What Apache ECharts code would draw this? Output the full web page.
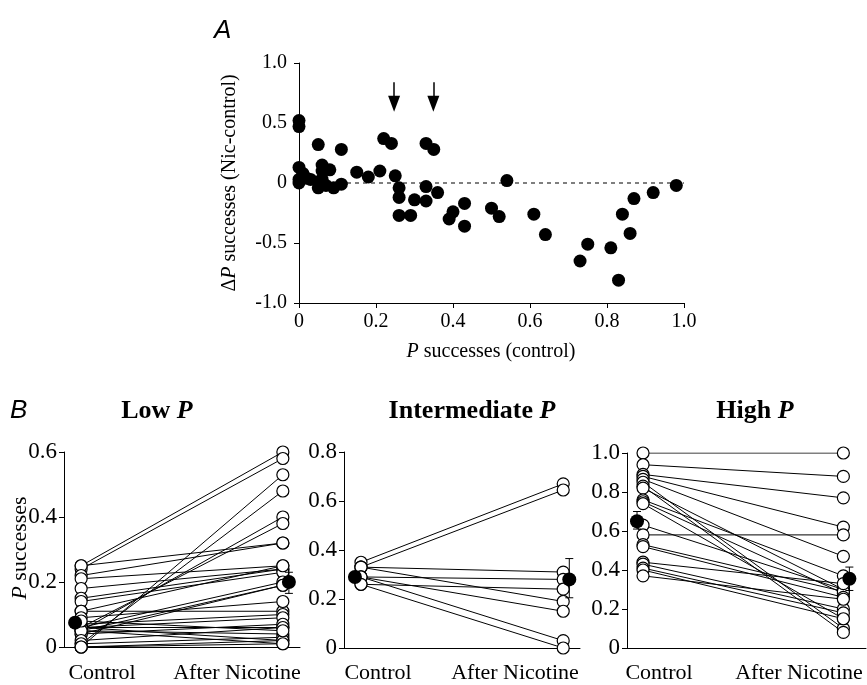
<!DOCTYPE html>
<html><head><meta charset="utf-8">
<script src="https://cdn.jsdelivr.net/npm/echarts@6/dist/echarts.min.js"></script>
<style>html,body{margin:0;padding:0;background:#fff}#c{width:867px;height:685px}</style>
</head><body><div id="c"></div>
<script>
// ---------- Panel A data ----------
const aX = [0.00,0.00,0.00,0.00,0.00,0.01,0.02,0.03,0.05,0.05,0.05,0.06,0.06,0.06,0.07,0.08,0.09,0.11,0.11,
            0.15,0.18,0.21,0.22,0.24,0.25,0.26,0.26,0.26,0.29,0.30,0.33,0.33,0.33,0.35,0.36,0.39,0.40,0.43,0.43,
            0.50,0.52,0.54,0.61,0.64,0.73,0.75,0.81,0.83,0.84,0.86,0.87,0.92,0.98];
const aY = [0.52,0.47,0.13,0.03,0.00,0.08,0.04,0.03,0.32,0.01,-0.04,0.15,0.10,0.03,-0.02,0.11,-0.04,0.28,-0.01,
            0.09,0.05,0.10,0.37,0.33,0.06,-0.04,-0.12,-0.27,-0.27,-0.14,-0.15,-0.03,0.33,0.28,-0.08,-0.30,-0.24,-0.17,-0.36,
            -0.21,-0.28,0.02,-0.26,-0.43,-0.65,-0.51,-0.54,-0.81,-0.26,-0.42,-0.13,-0.08,-0.02];
const arrowX = [0.247, 0.349];
const aXTicks = [0, 0.2, 0.4, 0.6, 0.8, 1.0];
const aYTicks = [-1.0, -0.5, 0, 0.5, 1.0];

// ---------- Panel B data (control, after nicotine) ----------
const lowCtrl  = [0.25,0.24,0.00,0.01,0.05,0.06,0.25,0.22,0.21,0.18,0.15,0.14,0.11,0.06,0.05,0.04,0.11,0.09,0.07,0.06,0.06,0.05,0.04,0.06,0.05,0.02,0.01,0.00,0.00,0.08];
const lowAfter = [0.60,0.58,0.53,0.48,0.40,0.38,0.32,0.32,0.25,0.24,0.24,0.23,0.25,0.20,0.19,0.19,0.11,0.14,0.10,0.09,0.06,0.04,0.07,0.02,0.01,0.06,0.03,0.02,0.01,0.05];
const lowMean = [0.075, 0.20];
const lowErr  = [[0.07, 0.08], [0.165, 0.23]];

const midCtrl  = [0.35,0.33,0.33,0.29,0.33,0.26,0.29,0.29,0.26];
const midAfter = [0.67,0.645,0.31,0.28,0.19,0.24,0.15,0.03,0.00];
const midMean = [0.29, 0.28];
const midErr  = [[0.285, 0.295], [0.205, 0.365]];

const highCtrl  = [1.00,0.94,0.89,0.88,0.865,0.85,0.83,0.82,0.76,0.75,0.74,0.63,0.58,0.53,0.52,0.44,0.43,0.41,0.40,0.37];
const highAfter = [1.00,0.88,0.77,0.62,0.47,0.10,0.08,0.30,0.37,0.28,0.15,0.30,0.58,0.29,0.26,0.33,0.20,0.18,0.15,0.25];
const highMean = [0.65, 0.355];
const highErr  = [[0.61, 0.70], [0.295, 0.415]];

const meanX = [-0.03, 1.03];
const lowTicks = [0, 0.2, 0.4, 0.6];
const midTicks = [0, 0.2, 0.4, 0.6, 0.8];
const highTicks = [0, 0.2, 0.4, 0.6, 0.8, 1.0];
const catLabels = ['Control', 'After Nicotine'];

// ---------- chart ----------
const SERIF = 'Liberation Serif, Times New Roman, serif';
const fmt = v => (Math.abs(v) < 1e-9 ? '0' : v.toFixed(1));
const chart = echarts.init(document.getElementById('c'), null, {renderer: 'canvas'});

const grids = [
  {left: 299, top: 63, width: 385, height: 240},
  {left: 64, top: 452, width: 236, height: 195},
  {left: 344, top: 452, width: 236, height: 196},
  {left: 627, top: 453, width: 239, height: 195}
];
function yAxisB(g, ticks) {
  return {gridIndex: g, type: 'value', min: 0, max: ticks[ticks.length - 1], interval: 0.2,
    axisLine: {show: true, onZero: false, lineStyle: {color: '#000', width: 1}},
    axisTick: {show: true, inside: false, length: 5, lineStyle: {color: '#000'}},
    splitLine: {show: false},
    axisLabel: {color: '#000', fontFamily: SERIF, fontSize: 23, formatter: fmt, margin: 7}};
}
function xAxisB(g, min, max) {
  return {gridIndex: g, type: 'value', min: min, max: max,
    axisLine: {show: true, onZero: false, lineStyle: {color: '#000'}}, axisTick: {show: false},
    axisLabel: {show: false}, splitLine: {show: false}};
}
const xAxes = [
  {gridIndex: 0, type: 'value', min: aXTicks[0], max: aXTicks[aXTicks.length - 1], interval: 0.2,
    axisLine: {show: true, onZero: false, lineStyle: {color: '#000', width: 1}},
    axisTick: {show: true, inside: false, length: 5, lineStyle: {color: '#000'}},
    splitLine: {show: false},
    axisLabel: {color: '#000', fontFamily: SERIF, fontSize: 20, formatter: fmt, margin: 9}},
  xAxisB(1, -0.085, 1.085),
  xAxisB(2, -0.084, 1.083),
  xAxisB(3, -0.08, 1.113)
];
const yAxes = [
  {gridIndex: 0, type: 'value', min: aYTicks[0], max: aYTicks[aYTicks.length - 1], interval: 0.5,
    axisLine: {show: true, onZero: false, lineStyle: {color: '#000', width: 1}},
    axisTick: {show: true, inside: false, length: 5, lineStyle: {color: '#000'}},
    splitLine: {show: false},
    axisLabel: {color: '#000', fontFamily: SERIF, fontSize: 20, formatter: fmt, margin: 12}},
  yAxisB(1, lowTicks),
  yAxisB(2, midTicks),
  yAxisB(3, highTicks)
];

const series = [];
// Panel A
series.push({type: 'line', xAxisIndex: 0, yAxisIndex: 0, data: [[0, 0], [1, 0]], showSymbol: false, silent: true,
  lineStyle: {color: '#000', width: 1, type: [4, 4]}, z: 1});
series.push({type: 'scatter', xAxisIndex: 0, yAxisIndex: 0, data: aX.map((x, i) => [x, aY[i]]),
  symbolSize: 13, itemStyle: {color: '#000', opacity: 1}, z: 3,
  markLine: {silent: true, symbol: ['none', 'triangle'], symbolSize: [12, 16], symbolRotate: 180, label: {show: false},
    lineStyle: {color: '#000', width: 1.5, type: 'solid', opacity: 1},
    data: arrowX.map(x => [{coord: [x, 0.84]}, {coord: [x, 0.66]}])}});

function addPanel(g, ctrl, after, mean, err) {
  ctrl.forEach((c, i) => {
    series.push({type: 'line', xAxisIndex: g, yAxisIndex: g, data: [[0, c], [1, after[i]]], showSymbol: false,
      silent: true, lineStyle: {color: '#000', width: 1}, z: 2});
  });
  const pts = [];
  ctrl.forEach((c, i) => { pts.push([0, c]); pts.push([1, after[i]]); });
  series.push({type: 'scatter', xAxisIndex: g, yAxisIndex: g, data: pts, symbolSize: 12,
    itemStyle: {color: '#fff', borderColor: '#000', borderWidth: 1.2, opacity: 1}, z: 3});
  series.push({type: 'custom', xAxisIndex: g, yAxisIndex: g, z: 4,
    data: err.map((e, i) => [meanX[i], e[0], e[1]]),
    renderItem: function (params, api) {
      const x = api.value(0), lo = api.value(1), hi = api.value(2);
      const p1 = api.coord([x, lo]), p2 = api.coord([x, hi]);
      const st = {stroke: '#000', lineWidth: 1};
      return {type: 'group', children: [
        {type: 'line', shape: {x1: p1[0], y1: p1[1], x2: p2[0], y2: p2[1]}, style: st},
        {type: 'line', shape: {x1: p1[0] - 4, y1: p1[1], x2: p1[0] + 4, y2: p1[1]}, style: st},
        {type: 'line', shape: {x1: p2[0] - 4, y1: p2[1], x2: p2[0] + 4, y2: p2[1]}, style: st}
      ]};
    }});
  series.push({type: 'scatter', xAxisIndex: g, yAxisIndex: g, data: mean.map((m, i) => [meanX[i], m]),
    symbolSize: 14, itemStyle: {color: '#000', opacity: 1}, z: 5});
}
addPanel(1, lowCtrl, lowAfter, lowMean, lowErr);
addPanel(2, midCtrl, midAfter, midMean, midErr);
addPanel(3, highCtrl, highAfter, highMean, highErr);

function richP(sz) {
  return {
    n: {fontFamily: SERIF, fontSize: sz, fill: '#000'},
    i: {fontFamily: SERIF, fontSize: sz, fontStyle: 'italic', fill: '#000'}
  };
}
const titleRich = {
  b: {fontFamily: SERIF, fontSize: 26, fontWeight: 'bold', fill: '#000'},
  bi: {fontFamily: SERIF, fontSize: 26, fontWeight: 'bold', fontStyle: 'italic', fill: '#000'}
};
function txt(x, y, text) {
  return {type: 'text', x: x, y: y,
    style: {text: text, fontFamily: SERIF, fontSize: 22, fill: '#000', align: 'center', verticalAlign: 'middle'}};
}
const labelPos = [[102, 237], [378, 515], [659, 799]];
const graphics = [
  {type: 'text', x: 214, y: 31, style: {text: 'A', fontFamily: 'Liberation Sans, Arial, sans-serif', fontSize: 26, fontStyle: 'italic', fill: '#000', align: 'left', verticalAlign: 'middle'}},
  {type: 'text', x: 10, y: 411, style: {text: 'B', fontFamily: 'Liberation Sans, Arial, sans-serif', fontSize: 26, fontStyle: 'italic', fill: '#000', align: 'left', verticalAlign: 'middle'}},
  {type: 'text', x: 491, y: 352, style: {rich: richP(20), text: '{i|P}{n| successes (control)}', align: 'center', verticalAlign: 'middle'}},
  {type: 'text', x: 230, y: 183, rotation: Math.PI / 2, style: {rich: richP(20), text: '{n|Δ}{i|P}{n| successes (Nic-control)}', align: 'center', verticalAlign: 'middle'}},
  {type: 'text', x: 20, y: 548, rotation: Math.PI / 2, style: {rich: richP(22), text: '{i|P}{n| successes}', align: 'center', verticalAlign: 'middle'}},
  {type: 'text', x: 157, y: 411, style: {rich: titleRich, text: '{b|Low }{bi|P}', align: 'center', verticalAlign: 'middle'}},
  {type: 'text', x: 472, y: 411, style: {rich: titleRich, text: '{b|Intermediate }{bi|P}', align: 'center', verticalAlign: 'middle'}},
  {type: 'text', x: 755, y: 411, style: {rich: titleRich, text: '{b|High }{bi|P}', align: 'center', verticalAlign: 'middle'}}
];
labelPos.forEach(p => {
  graphics.push(txt(p[0], 673, catLabels[0]));
  graphics.push(txt(p[1], 673, catLabels[1]));
});

chart.setOption({
  animation: false,
  backgroundColor: '#fff',
  grid: grids,
  xAxis: xAxes,
  yAxis: yAxes,
  series: series,
  graphic: graphics
});
</script></body></html>
